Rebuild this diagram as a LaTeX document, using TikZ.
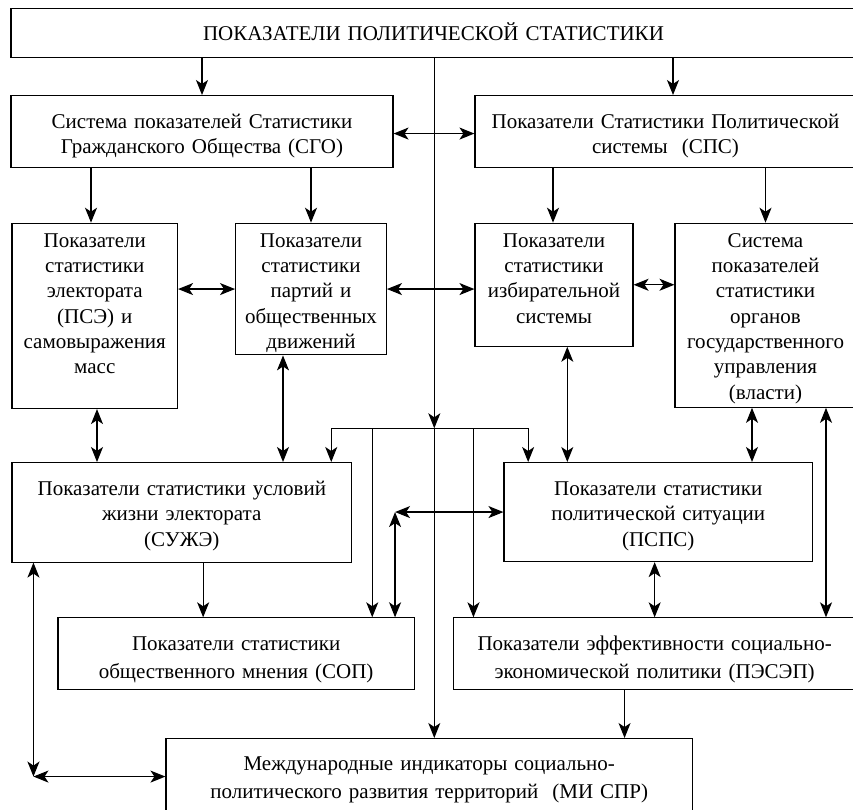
\documentclass[tikz,border=0pt]{standalone}
\usepackage{fontspec}
\setmainfont{Liberation Serif}
\usetikzlibrary{calc,arrows.meta,positioning}
\tikzset{block/.style={draw, line width=1.1pt, inner sep=0pt, anchor=north, align=center, font=\fontsize{21}{25.3}\selectfont}, link/.style={line width=1.2pt, -{Stealth[length=15pt,width=12pt,inset=4pt]}}, twoway/.style={line width=1.2pt, {Stealth[length=15pt,width=12pt,inset=4pt]}-{Stealth[length=15pt,width=12pt,inset=4pt]}}}

\begin{document}
\begin{tikzpicture}[x=1pt, y=-1pt]
    \useasboundingbox (0,0) rectangle (853,809);
    \clip (0,0) rectangle (853,809);
    \node[block, text width=845pt, text height=31.7pt, text depth=16.7pt] (Top) at (433.5,8.3) {ПОКАЗАТЕЛИ ПОЛИТИЧЕСКОЙ СТАТИСТИКИ};
    \node[block, text width=382pt, text height=33pt, text depth=39pt] (SGO) at (202,95) {Система показателей Статистики\\Гражданского Общества (СГО)};
    \node[block, text width=381pt, text height=33pt, text depth=39pt] (SPS) at (665.5,95) {Показатели Статистики Политической\\системы~ (СПС)};
    \node[block, text width=165.5pt, text height=24pt, text depth=161.3pt] (PSE) at (94.75,222.7) {Показатели\\статистики\\электората\\(ПСЭ) и\\самовыражения\\масс};
    \node[block, text width=150.8pt, text height=24pt, text depth=107.6pt] (PPD) at (311,222.7) {Показатели\\статистики\\партий и\\общественных\\движений};
    \node[block, text width=158pt, text height=24pt, text depth=99pt] (IZB) at (554,222.7) {Показатели\\статистики\\избирательной\\системы};
    \node[block, text width=181pt, text height=24pt, text depth=160pt] (OGU) at (765.5,222.7) {Система\\показателей\\статистики\\органов\\государственного\\управления\\(власти)};
    \node[block, text width=339.7pt, text height=33pt, text depth=66.5pt] (SUZ) at (181.85,462) {Показатели статистики условий\\жизни электората\\(СУЖЭ)};
    \node[block, text width=308.5pt, text height=33pt, text depth=66pt] (PSPS) at (658.25,462) {Показатели статистики\\политической ситуации\\(ПСПС)};
    \node[block, text width=356.3pt, text height=32.7pt, text depth=39.3pt, font=\fontsize{21}{27.7}\selectfont] (SOP) at (236.15,617.3) {Показатели статистики\\общественного мнения (СОП)};
    \node[block, text width=402.7pt, text height=32.7pt, text depth=39.3pt, font=\fontsize{21}{27.7}\selectfont] (PESEP) at (654.65,617.3) {Показатели эффективности социально-\\экономической политики (ПЭСЭП)};
    \node[block, text width=526.5pt, text height=32pt, text depth=44pt, font=\fontsize{21}{28}\selectfont] (MISPR) at (429.25,738) {Международные индикаторы социально-\\политического развития территорий~ (МИ СПР)};
    \coordinate (Bus) at (434.3,428.3);
    \draw[link] (Top.south -| Bus) -- (Bus);
    \draw[link] (Bus) -- (Bus |- MISPR.north);
    \draw[link] (Top.south -| SGO.north) -- (SGO.north);
    \draw[link] let \p1 = ([xshift=7.5pt]SPS.north), \p2 = (Top.south) in (\x1,\y2) -- (\p1);
    \draw[twoway] ([yshift=-2pt]SGO.east) -- ([yshift=-2pt]SPS.west);
    \draw[link] let \p1 = ([xshift=-3.75pt]PSE.north), \p2 = (SGO.south) in (\x1,\y2) -- (\p1);
    \draw[link] (SGO.south -| PPD.north) -- (PPD.north);
    \draw[link] let \p1 = ([xshift=-1pt]IZB.north), \p2 = (SPS.south) in (\x1,\y2) -- (\p1);
    \draw[link] (SPS.south -| OGU.north) -- (OGU.north);
    \draw[twoway] (PSE.east |- PPD.west) -- (PPD.west);
    \draw[twoway] (PPD.east) -- (IZB.west |- PPD.east);
    \draw[twoway] (IZB.east) -- (OGU.west |- IZB.east);
    \draw[twoway] let \p1 = ([xshift=2.25pt]PSE.south), \p2 = (SUZ.north) in (\p1) -- (\x1,\y2);
    \draw[twoway] let \p1 = ([xshift=-28pt]PPD.south), \p2 = (SUZ.north) in (\p1) -- (\x1,\y2);
    \draw[link] let \p1 = ([xshift=-21pt]SUZ.north east), \p2 = (Bus) in (\p2) -- (\x1,\y2) -- (\p1);
    \draw[link] let \p1 = ([xshift=24.7pt]PSPS.north west), \p2 = (Bus) in (\p2) -- (\x1,\y2) -- (\p1);
    \draw[link] let \p1 = ([xshift=-42.6pt]SOP.north east), \p2 = (Bus) in (\x1,\y2) -- (\p1);
    \draw[link] let \p1 = ([xshift=20.7pt]PESEP.north west), \p2 = (Bus) in (\x1,\y2) -- (\p1);
    \draw[twoway] let \p1 = ([xshift=13.3pt]IZB.south), \p2 = (PSPS.north) in (\p1) -- (\x1,\y2);
    \draw[twoway] let \p1 = ([xshift=-13.5pt]OGU.south), \p2 = (PSPS.north) in (\p1) -- (\x1,\y2);
    \draw[twoway] let \p1 = ([xshift=60.5pt]OGU.south), \p2 = (PESEP.north) in (\p1) -- (\x1,\y2);
    \draw[twoway] let \p1 = ([xshift=-19.8pt]SOP.north east), \p2 = (PSPS.west) in (\x1,\y2) -- (\p2);
    \draw[twoway] let \p1 = ([xshift=-19.8pt]SOP.north east), \p2 = (PSPS.west) in (\x1,\y2) -- (\p1);
    \draw[link] let \p1 = ([xshift=-33pt]SOP.north), \p2 = (SUZ.south) in (\x1,\y2) -- (\p1);
    \draw[twoway] (PSPS.south -| PESEP.north) -- (PESEP.north);
    \draw[link] let \p1 = ([xshift=-68.5pt]MISPR.north east), \p2 = (PESEP.south) in (\x1,\y2) -- (\p1);
    \draw[twoway] let \p1 = ([xshift=22pt]SUZ.south west), \p2 = (MISPR.west) in (\p1) -- (\x1,\y2);
    \draw[twoway] let \p1 = ([xshift=22pt]SUZ.south west), \p2 = (MISPR.west) in (\x1,\y2) -- (\p2);
\end{tikzpicture}
\end{document}
